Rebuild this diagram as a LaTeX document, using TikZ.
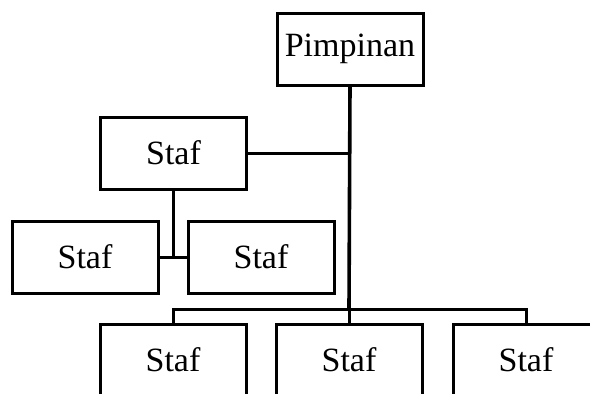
\documentclass[tikz,border=0pt]{standalone}
\usepackage{fontspec}
\setmainfont{Liberation Serif}
\usetikzlibrary{calc}
\tikzset{unit/.style={draw,shape=rectangle,minimum width=146pt,minimum height=72pt,inner sep=0pt,font=\fontsize{34}{40}\selectfont}}

\begin{document}
\begin{tikzpicture}[x=1pt, y=-1pt, line width=3pt]

\useasboundingbox (0,0) rectangle (590,394);
\clip (0,0) rectangle (590,394);

\node [unit] (pimpinan) at (350, 49) {Pimpinan};

\node [unit] (stafa) at (173.5, 153) {Staf};
\node [unit] (stafb) at (85, 257) {Staf};
\node [unit] (stafc) at (261, 257) {Staf};

\node [unit] (stafd) at (173, 360) {Staf};
\node [unit] (stafe) at (349, 360) {Staf};
\node [unit] (staff) at (526, 360) {Staf};

\coordinate (bus) at (349, 309);

\draw [line width=3.6pt] (pimpinan.south) -- (bus);
\draw (stafa.east) -- (stafa.east -| pimpinan.south);
\draw (stafa.south) -- (stafa.south |- stafb.east);
\draw (stafb.east) -- (stafc.west);

\draw (stafd.north) -- (stafd.north |- bus) -| (staff.north);
\draw (bus) -- (stafe.north);

\end{tikzpicture}
\end{document}
